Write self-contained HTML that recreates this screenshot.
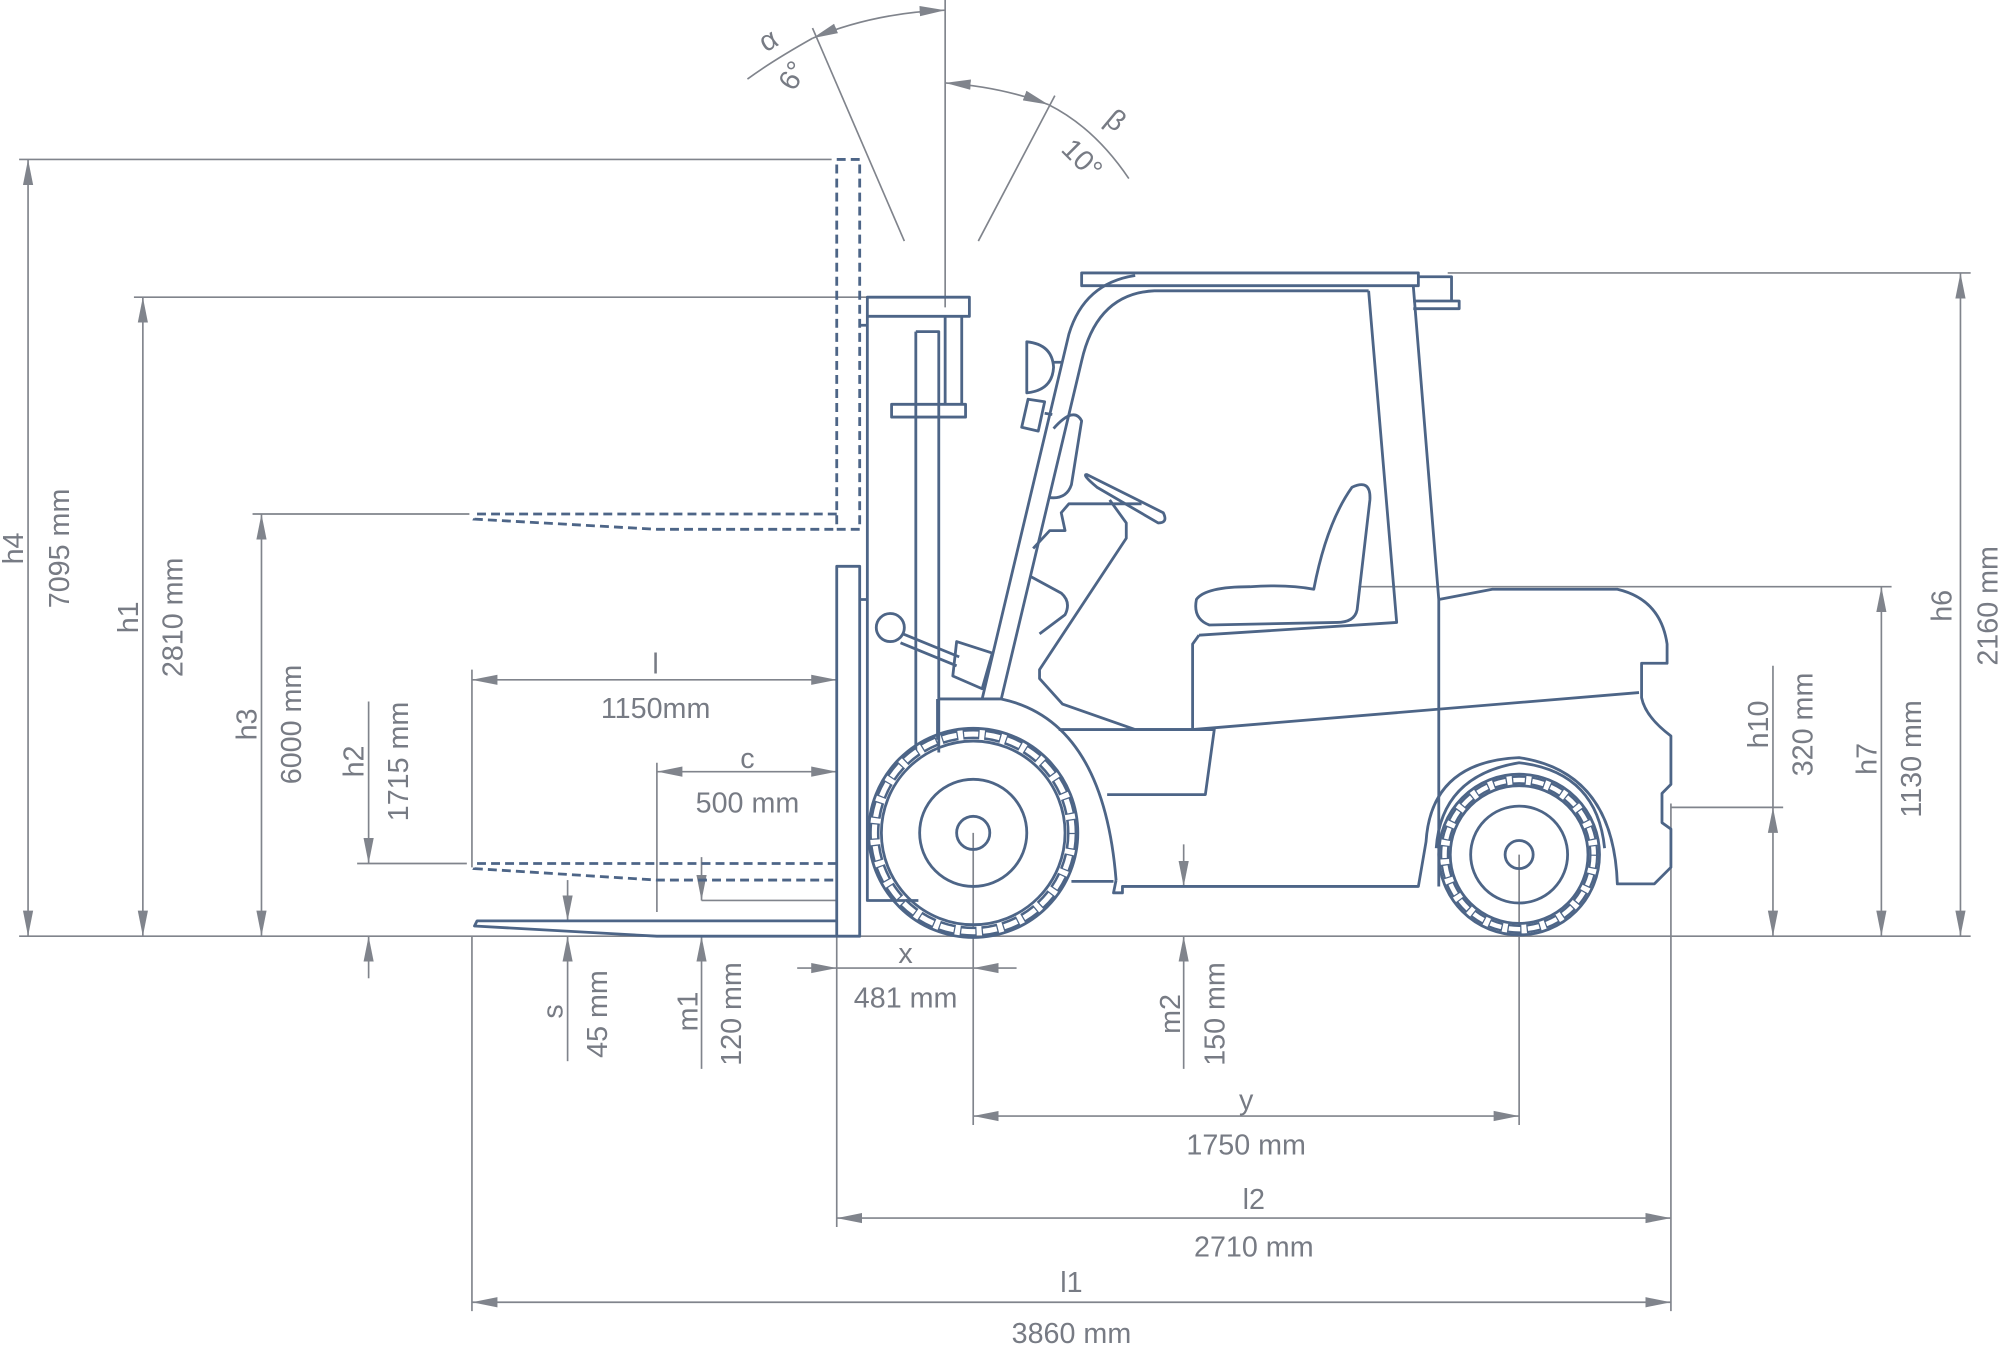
<!DOCTYPE html>
<html><head><meta charset="utf-8"><style>
html,body{margin:0;padding:0;background:#fff;}
svg{display:block;}
text{font-family:"Liberation Sans",sans-serif;font-size:22.5px;fill:#777b84;}
.d{stroke:#80848c;stroke-width:1.3;fill:none;}
.f{stroke:#4d6587;stroke-width:2.2;fill:none;stroke-linejoin:round;}
.ds{stroke:#4d6587;stroke-width:2.2;fill:none;stroke-dasharray:7 4;}
</style></head><body>
<svg width="2000" height="1346" viewBox="0 0 1568 1055.3" preserveAspectRatio="none" xmlns="http://www.w3.org/2000/svg">
<defs>
<marker id="b" viewBox="0 0 20 10" refX="20" refY="5" markerWidth="20" markerHeight="10" orient="auto-start-reverse" markerUnits="userSpaceOnUse"><path d="M0,1 L20,5 L0,9z" fill="#80848c"/></marker>
</defs>
<!-- ground -->
<line class="d" x1="15" y1="734" x2="1545" y2="734"/>
<!-- h4 -->
<line class="d" x1="15" y1="125" x2="652" y2="125"/>
<line class="d" x1="22" y1="125" x2="22" y2="734" marker-start="url(#b)" marker-end="url(#b)"/>
<text transform="translate(18,430) rotate(-90)" text-anchor="middle">h4</text>
<text transform="translate(54,430) rotate(-90)" text-anchor="middle">7095 mm</text>
<!-- h1 -->
<line class="d" x1="105" y1="233" x2="680" y2="233"/>
<line class="d" x1="112" y1="233" x2="112" y2="734" marker-start="url(#b)" marker-end="url(#b)"/>
<text transform="translate(108,484) rotate(-90)" text-anchor="middle">h1</text>
<text transform="translate(143,484) rotate(-90)" text-anchor="middle">2810 mm</text>
<!-- h3 -->
<line class="d" x1="198" y1="403" x2="368" y2="403"/>
<line class="d" x1="205" y1="403" x2="205" y2="734" marker-start="url(#b)" marker-end="url(#b)"/>
<text transform="translate(201,568) rotate(-90)" text-anchor="middle">h3</text>
<text transform="translate(236,568) rotate(-90)" text-anchor="middle">6000 mm</text>
<!-- h2 -->
<line class="d" x1="280" y1="677" x2="366" y2="677"/>
<line class="d" x1="289" y1="550" x2="289" y2="677" marker-end="url(#b)"/>
<line class="d" x1="289" y1="767" x2="289" y2="734" marker-end="url(#b)"/>
<text transform="translate(285,597) rotate(-90)" text-anchor="middle">h2</text>
<text transform="translate(320,597) rotate(-90)" text-anchor="middle">1715 mm</text>
<!-- l -->
<line class="d" x1="370" y1="525" x2="370" y2="680"/>
<line class="d" x1="370" y1="533" x2="656" y2="533" marker-start="url(#b)" marker-end="url(#b)"/>
<text x="514" y="528" text-anchor="middle">l</text>
<text x="514" y="563" text-anchor="middle">1150mm</text>
<!-- c -->
<line class="d" x1="515" y1="598" x2="515" y2="715"/>
<line class="d" x1="515" y1="605" x2="656" y2="605" marker-start="url(#b)" marker-end="url(#b)"/>
<text x="586" y="602" text-anchor="middle">c</text>
<text x="586" y="637" text-anchor="middle">500 mm</text>
<!-- s -->
<line class="d" x1="445" y1="690" x2="445" y2="722" marker-end="url(#b)"/>
<line class="d" x1="445" y1="832" x2="445" y2="734" marker-end="url(#b)"/>
<text transform="translate(441,793) rotate(-90)" text-anchor="middle">s</text>
<text transform="translate(476,795) rotate(-90)" text-anchor="middle">45 mm</text>
<!-- m1 -->
<line class="d" x1="550" y1="672" x2="550" y2="706" marker-end="url(#b)"/>
<line class="d" x1="550" y1="838" x2="550" y2="734" marker-end="url(#b)"/>
<line class="d" x1="550" y1="706" x2="656" y2="706"/>
<text transform="translate(547,793) rotate(-90)" text-anchor="middle">m1</text>
<text transform="translate(581,795) rotate(-90)" text-anchor="middle">120 mm</text>
<!-- x -->
<line class="d" x1="625" y1="759" x2="656" y2="759" marker-end="url(#b)"/>
<line class="d" x1="797" y1="759" x2="763" y2="759" marker-end="url(#b)"/>
<line class="d" x1="656" y1="759" x2="763" y2="759"/>
<text x="710" y="755" text-anchor="middle">x</text>
<text x="710" y="790" text-anchor="middle">481 mm</text>
<!-- m2 -->
<line class="d" x1="928" y1="662" x2="928" y2="695" marker-end="url(#b)"/>
<line class="d" x1="928" y1="838" x2="928" y2="734" marker-end="url(#b)"/>
<text transform="translate(925,795) rotate(-90)" text-anchor="middle">m2</text>
<text transform="translate(960,795) rotate(-90)" text-anchor="middle">150 mm</text>
<!-- y -->
<line class="d" x1="763" y1="653" x2="763" y2="882"/>
<line class="d" x1="1191" y1="670" x2="1191" y2="882"/>
<line class="d" x1="763" y1="875" x2="1191" y2="875" marker-start="url(#b)" marker-end="url(#b)"/>
<text x="977" y="870" text-anchor="middle">y</text>
<text x="977" y="905" text-anchor="middle">1750 mm</text>
<!-- l2 -->
<line class="d" x1="656" y1="734" x2="656" y2="962"/>
<line class="d" x1="1310" y1="630" x2="1310" y2="1028"/>
<line class="d" x1="656" y1="955" x2="1310" y2="955" marker-start="url(#b)" marker-end="url(#b)"/>
<text x="983" y="948" text-anchor="middle">l2</text>
<text x="983" y="985" text-anchor="middle">2710 mm</text>
<!-- l1 -->
<line class="d" x1="370" y1="734" x2="370" y2="1028"/>
<line class="d" x1="370" y1="1021" x2="1310" y2="1021" marker-start="url(#b)" marker-end="url(#b)"/>
<text x="840" y="1013" text-anchor="middle">l1</text>
<text x="840" y="1053" text-anchor="middle">3860 mm</text>
<!-- h10 -->
<line class="d" x1="1310" y1="633" x2="1398" y2="633"/>
<line class="d" x1="1390" y1="522" x2="1390" y2="633"/>
<line class="d" x1="1390" y1="633" x2="1390" y2="734" marker-start="url(#b)" marker-end="url(#b)"/>
<text transform="translate(1386,568) rotate(-90)" text-anchor="middle">h10</text>
<text transform="translate(1421,568) rotate(-90)" text-anchor="middle">320 mm</text>
<!-- h7 -->
<line class="d" x1="1065" y1="460" x2="1483" y2="460"/>
<line class="d" x1="1475" y1="460" x2="1475" y2="734" marker-start="url(#b)" marker-end="url(#b)"/>
<text transform="translate(1471,595) rotate(-90)" text-anchor="middle">h7</text>
<text transform="translate(1506,595) rotate(-90)" text-anchor="middle">1130 mm</text>
<!-- h6 -->
<line class="d" x1="1135" y1="214" x2="1545" y2="214"/>
<line class="d" x1="1537" y1="214" x2="1537" y2="734" marker-start="url(#b)" marker-end="url(#b)"/>
<text transform="translate(1530,475) rotate(-90)" text-anchor="middle">h6</text>
<text transform="translate(1566,475) rotate(-90)" text-anchor="middle">2160 mm</text>
<!-- angles -->
<line class="d" x1="741" y1="0" x2="741" y2="241"/>
<path class="d" d="M586,62 Q605,48 637,30"/>
<path class="d" d="M637,30 Q685,10 741,8" marker-start="url(#b)" marker-end="url(#b)"/>
<line class="d" x1="637" y1="22" x2="709" y2="189"/>
<path class="d" d="M741,65 Q785,68 822,82" marker-start="url(#b)" marker-end="url(#b)"/>
<path class="d" d="M822,82 Q858,100 885,140"/>
<line class="d" x1="827" y1="75" x2="767" y2="189"/>
<text transform="translate(606,38) rotate(-30)" text-anchor="middle">α</text>
<text transform="translate(628,63) rotate(-60)" text-anchor="middle">6°</text>
<text transform="translate(870,100) rotate(40)" text-anchor="middle">β</text>
<text transform="translate(843,130) rotate(45)" text-anchor="middle">10°</text>

<!-- forks dashed -->
<path class="ds" d="M656,125 L674,125 L674,415 L656,415 Z M656,403 L374,403 L372,407 L515,415 L656,415"/>
<path class="ds" d="M656,677 L374,677 L372,681 L515,690 L656,690"/>
<!-- solid fork & carriage -->
<path class="f" d="M656,444 L674,444 L674,734 L656,734 Z M656,722 L374,722 L372,726 L515,734 L656,734"/>
<!-- mast -->
<path class="f" d="M680,233 L760,233 L760,248 L680,248 Z M680,248 L680,706 L720,706 M741,248 L741,317 M754,248 L754,317 M718,260 L736,260 L736,590 M718,260 L718,590 M699,317 L757,317 L757,327 L699,327 Z M674,255 L680,255 M674,470 L680,470"/>
<!-- tilt lever -->
<circle class="f" cx="698" cy="492" r="11"/>
<path class="f" d="M708,497 L752,515 M706,504 L750,522 M750,503 L778,512 L770,540 L747,530 Z"/>
<!-- lights -->
<path class="f" d="M805,268 Q825,270 826,288 Q825,306 805,308 Z M826,284 L832,284 M806,313 L819,315 L814,338 L801,335 Z M819,324 L825,325"/>
<!-- cab -->
<path class="f" d="M848,214 L1112,214 L1112,224 L848,224 Z M1112,217 L1138,217 L1138,236 L1120,236 M1108,236 L1144,236 L1144,242 L1108,242"/>
<path class="f" d="M770,548 L838,262 Q850,222 890,216 M785,548 L848,283 Q860,230 905,228 L1073,228 M1073,228 L1095,488 L940,498 M1108,224 L1128,470 L1128,695"/>
<path class="f" d="M826,336 Q842,318 848,330 L840,380 Q836,392 822,390"/>
<!-- seat -->
<path class="f" d="M1030,462 Q1040,410 1060,382 Q1075,375 1074,392 L1064,478 Q1062,488 1048,488 L948,490 Q935,485 938,470 Q945,460 980,460 Q1010,458 1030,462 Z"/>
<!-- steering -->
<path class="f" d="M852,372 L912,402 Q916,410 908,410 L860,382 Q848,372 852,372 Z M870,392 L883,410 L883,422 L815,525 L815,532 L833,552 L890,572 L935,572"/>
<path class="f" d="M895,395 L838,395 L832,402 L835,416 L823,416 L810,430 M808,452 L832,465 Q840,472 835,482 L815,497"/>
<!-- body -->
<path class="f" d="M935,572 L935,505 L940,498 M935,572 L1285,543 M1128,470 L1170,462 L1268,462 Q1302,470 1307,505 L1307,520 L1287,520 L1287,547 Q1290,562 1310,577 L1310,615 L1303,622 L1303,645 L1310,650 L1310,680 L1297,693 L1268,693 Q1265,605 1191,594 Q1122,597 1118,660 L1112,695 L880,695 L880,700 L873,700 L875,690"/>
<path class="f" d="M735,548 L785,548 Q865,565 875,690 M735,548 L735,580 M830,572 L952,572 L945,623 L868,623 M840,691 L873,691"/>
<!-- front wheel -->
<circle class="f" cx="763" cy="653" r="82"/>
<circle class="f" cx="763" cy="653" r="72"/>
<circle cx="763" cy="653" r="77.5" fill="none" stroke="#4d6587" stroke-width="8" stroke-dasharray="13 4"/>
<circle cx="763" cy="653" r="77.5" fill="none" stroke="#fff" stroke-width="4" stroke-dasharray="11 6" stroke-dashoffset="-1"/>
<circle class="f" cx="763" cy="653" r="42"/>
<circle class="f" cx="763" cy="653" r="13"/>
<!-- rear wheel -->
<path class="f" d="M1126,665 Q1130,608 1191,598 Q1252,605 1258,665"/>
<circle class="f" cx="1191" cy="670" r="63"/>
<circle class="f" cx="1191" cy="670" r="54"/>
<circle cx="1191" cy="670" r="58.5" fill="none" stroke="#4d6587" stroke-width="7" stroke-dasharray="11 4"/>
<circle cx="1191" cy="670" r="58.5" fill="none" stroke="#fff" stroke-width="3.5" stroke-dasharray="9 6" stroke-dashoffset="-1"/>
<circle class="f" cx="1191" cy="670" r="38"/>
<circle class="f" cx="1191" cy="670" r="11"/>
</svg>
</body></html>
